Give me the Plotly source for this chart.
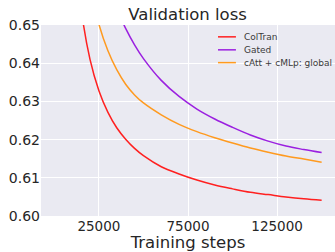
import plotly.graph_objects as go

steps = [10000, 15000, 20000, 25000, 30000, 35000, 40000, 45000, 50000, 60000, 70000,
         80000, 90000, 100000, 110000, 120000, 130000, 140000, 150000]
coltran = [0.6800, 0.6544, 0.6410, 0.6328, 0.6272, 0.6231, 0.6201, 0.6177, 0.6158, 0.6129, 0.6110,
           0.6094, 0.6081, 0.6071, 0.6062, 0.6056, 0.6050, 0.6045, 0.6041]
gated = [0.7234, 0.6981, 0.6816, 0.6699, 0.6612, 0.6545, 0.6491, 0.6448, 0.6412, 0.6355, 0.6313,
         0.6280, 0.6254, 0.6232, 0.6212, 0.6196, 0.6183, 0.6174, 0.6166]
catt = [0.7064, 0.6765, 0.6603, 0.6502, 0.6433, 0.6383, 0.6345, 0.6317, 0.6296, 0.6265, 0.6240,
        0.6221, 0.6205, 0.6191, 0.6178, 0.6167, 0.6157, 0.6149, 0.6141]

names = ["ColTran", "Gated", "cAtt + cMLp: global"]
colors = ["#ff2020", "#9b20e0", "#ff9a1f"]
values = [coltran, gated, catt]
x_ticks = [25000, 75000, 125000]
y_ticks = [0.60, 0.61, 0.62, 0.63, 0.64, 0.65]

fig = go.Figure()
for name, vals, col in zip(names, values, colors):
    fig.add_trace(go.Scatter(x=steps, y=vals, mode="lines", name=name, showlegend=False,
                             hoverinfo="skip",
                             line=dict(color=col, width=1.5, shape="spline")))

# legend drawn manually (short line samples as in the reference)
leg_y = [0.938, 0.870, 0.803]
for name, col, ly in zip(names, colors, leg_y):
    fig.add_shape(type="line", xref="paper", yref="paper", x0=0.602, x1=0.663, y0=ly, y1=ly,
                  line=dict(color=col, width=1.5))
    fig.add_annotation(xref="paper", yref="paper", x=0.684, y=ly, text=name, showarrow=False,
                       xanchor="left", yanchor="middle", font=dict(size=9, color="#3a3a3a"))

fig.update_layout(
    width=335, height=252,
    margin=dict(l=41, r=0, t=25, b=36),
    paper_bgcolor="white", plot_bgcolor="#EAEAF2",
    font=dict(family="DejaVu Sans", color="#262626"),
    title=dict(text="Validation loss", x=0.56, xanchor="center", y=0.944, yanchor="middle",
               font=dict(size=16.5, color="#262626")),
    showlegend=False,
)
fig.update_xaxes(range=[-7500, 157500], tickvals=x_ticks, ticktext=[str(v) for v in x_ticks],
                 showgrid=True, gridcolor="white", gridwidth=1, zeroline=False,
                 showline=False, ticks="", ticklen=0, tickfont=dict(size=13.5),
                 title=dict(text="Training steps", font=dict(size=16.5), standoff=2))
fig.update_yaxes(range=[0.60, 0.65], tickvals=y_ticks, tickformat=".2f",
                 showgrid=True, gridcolor="white", gridwidth=1, zeroline=False,
                 showline=False, ticks="", ticklen=0, tickfont=dict(size=14))

fig.write_html("out.html", config={"displayModeBar": False},
               post_script="document.body.style.margin='0';")
